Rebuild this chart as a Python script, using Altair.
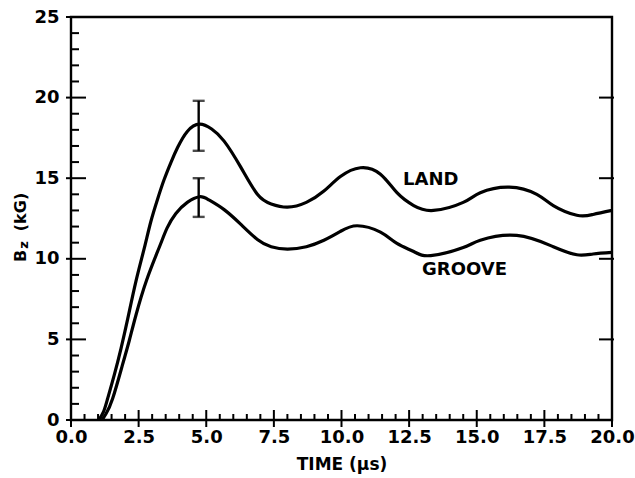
import altair as alt
import pandas as pd

# ---- data ----
land_t = [1.03, 1.2, 1.35, 1.6, 1.85, 2.1, 2.4, 2.7, 2.95, 3.2, 3.44, 3.7, 3.94, 4.3, 4.75,
          5.2, 5.66, 6.27, 6.89, 7.4, 8.0, 8.7, 9.35, 9.96, 10.7, 11.44, 12.05, 12.67, 13.4,
          14.5, 15.13, 16.2, 17.22, 17.83, 18.7, 19.3, 20.0]
land_b = [0.0, 0.5, 1.3, 2.8, 4.45, 6.3, 8.6, 10.6, 12.3, 13.7, 14.9, 16.0, 16.9, 17.9, 18.35,
          18.05, 17.3, 15.7, 14.0, 13.4, 13.2, 13.5, 14.2, 15.1, 15.65, 15.25, 14.1, 13.3, 13.0,
          13.5, 14.1, 14.45, 14.0, 13.3, 12.7, 12.75, 13.0]

groove_t = [1.15, 1.3, 1.54, 1.9, 2.15, 2.4, 2.8, 3.26, 3.55, 3.87, 4.3, 4.75, 5.1, 5.66,
            6.27, 6.89, 7.4, 8.0, 8.7, 9.35, 9.96, 10.58, 11.44, 12.05, 12.67, 13.3, 14.5,
            15.13, 16.48, 17.83, 18.7, 19.3, 20.0]
groove_b = [0.0, 0.4, 1.33, 3.4, 4.9, 6.5, 8.7, 10.7, 11.9, 12.8, 13.5, 13.85, 13.65, 13.05,
            12.15, 11.2, 10.75, 10.6, 10.75, 11.15, 11.7, 12.05, 11.65, 10.95, 10.45, 10.2, 10.7,
            11.15, 11.45, 10.75, 10.25, 10.3, 10.4]

err_t = [4.72, 4.72]
err_lo = [16.7, 12.6]
err_hi = [19.8, 15.0]

label_text = ["LAND", "GROOVE"]
label_t = [13.3, 14.55]
label_b = [14.9, 9.3]

x_major = [0.0, 2.5, 5.0, 7.5, 10.0, 12.5, 15.0, 17.5, 20.0]
x_minor = [i * 0.5 for i in range(41) if (i * 0.5) % 2.5 != 0]
y_major = [0, 5, 10, 15, 20, 25]
y_minor = [v for v in range(26) if v % 5 != 0]
y_right = [5, 10, 15, 20]

W, H = 541, 403
FONT = "DejaVu Sans"

xs = alt.Scale(domain=[0, 20], nice=False, zero=False)
ys = alt.Scale(domain=[0, 25], nice=False)

df = pd.concat([
    pd.DataFrame({"t": land_t, "b": land_b, "series": "land"}),
    pd.DataFrame({"t": groove_t, "b": groove_b, "series": "groove"}),
])

lines = alt.Chart(df).mark_line(
    color="black", strokeWidth=3.2, interpolate="natural"
).encode(
    x=alt.X("t:Q", scale=xs, axis=alt.Axis(
        values=x_major, format=".1f", title="TIME (μs)", ticks=False, domain=False,
        grid=False, labelPadding=8, labelFontSize=18, labelFont=FONT, labelColor="black",
        labelFontWeight="bold",
        titleFont=FONT, titleFontSize=17, titleFontWeight="bold", titleColor="black",
        titlePadding=10, labelFlush=False)),
    y=alt.Y("b:Q", scale=ys, axis=alt.Axis(
        values=y_major, format="d", title=None, ticks=False, domain=False, grid=False,
        labelPadding=12, labelFontSize=18, labelFont=FONT, labelColor="black",
        labelFontWeight="bold", labelFlush=False)),
    detail="series:N",
)

edf = pd.DataFrame({"t": err_t, "lo": err_lo, "hi": err_hi})
err_rule = alt.Chart(edf).mark_rule(color="black", strokeWidth=2.4).encode(
    x=alt.X("t:Q", scale=xs), y=alt.Y("lo:Q", scale=ys), y2="hi:Q")
err_cap_lo = alt.Chart(edf).mark_tick(color="black", orient="horizontal", size=12,
                                      thickness=2.4).encode(
    x=alt.X("t:Q", scale=xs), y=alt.Y("lo:Q", scale=ys))
err_cap_hi = alt.Chart(edf).mark_tick(color="black", orient="horizontal", size=12,
                                      thickness=2.4).encode(
    x=alt.X("t:Q", scale=xs), y=alt.Y("hi:Q", scale=ys))

ldf = pd.DataFrame({"txt": label_text, "t": label_t, "b": label_b})
labels = alt.Chart(ldf).mark_text(font=FONT, fontSize=18, fontWeight="bold", color="black",
                                  align="center", baseline="middle").encode(
    x=alt.X("t:Q", scale=xs), y=alt.Y("b:Q", scale=ys), text="txt:N")

# inward axis ticks
ymaj = alt.Chart(pd.DataFrame({"v": y_major})).mark_rule(color="black", strokeWidth=2).encode(
    y=alt.Y("v:Q", scale=ys), x=alt.value(-5), x2=alt.value(15))
ymin = alt.Chart(pd.DataFrame({"v": y_minor})).mark_rule(color="black", strokeWidth=2).encode(
    y=alt.Y("v:Q", scale=ys), x=alt.value(0), x2=alt.value(8))
yright = alt.Chart(pd.DataFrame({"v": y_right})).mark_rule(color="black", strokeWidth=2).encode(
    y=alt.Y("v:Q", scale=ys), x=alt.value(W - 13), x2=alt.value(W + 2))
xmaj = alt.Chart(pd.DataFrame({"v": x_major})).mark_rule(color="black", strokeWidth=2).encode(
    x=alt.X("v:Q", scale=xs), y=alt.value(H - 10), y2=alt.value(H + 7))
xmin = alt.Chart(pd.DataFrame({"v": x_minor})).mark_rule(color="black", strokeWidth=2).encode(
    x=alt.X("v:Q", scale=xs), y=alt.value(H - 6), y2=alt.value(H))

# y-axis title with subscript
t_B = alt.Chart(pd.DataFrame({"s": ["B"]})).mark_text(
    font=FONT, fontSize=16, fontWeight="bold", angle=270, align="center",
    baseline="middle", color="black"
).encode(text="s:N", x=alt.value(-50), y=alt.value(239))
t_z = alt.Chart(pd.DataFrame({"s": ["z"]})).mark_text(
    font=FONT, fontSize=13, fontWeight="bold", angle=270, align="center",
    baseline="middle", color="black"
).encode(text="s:N", x=alt.value(-47), y=alt.value(228))
t_kG = alt.Chart(pd.DataFrame({"s": ["(kG)"]})).mark_text(
    font=FONT, fontSize=16, fontWeight="bold", angle=270, align="center",
    baseline="middle", color="black"
).encode(text="s:N", x=alt.value(-50), y=alt.value(195))

chart = alt.layer(
    ymaj, ymin, yright, xmaj, xmin, err_rule, err_cap_lo, err_cap_hi, lines, labels,
    t_B, t_z, t_kG
).properties(
    width=W, height=H, autosize="none", background="white",
    padding={"left": 71, "top": 17, "right": 23, "bottom": 58},
).configure_view(stroke="black", strokeWidth=2.4)

chart.save("out.html", embed_options={"renderer": "svg", "actions": False})
